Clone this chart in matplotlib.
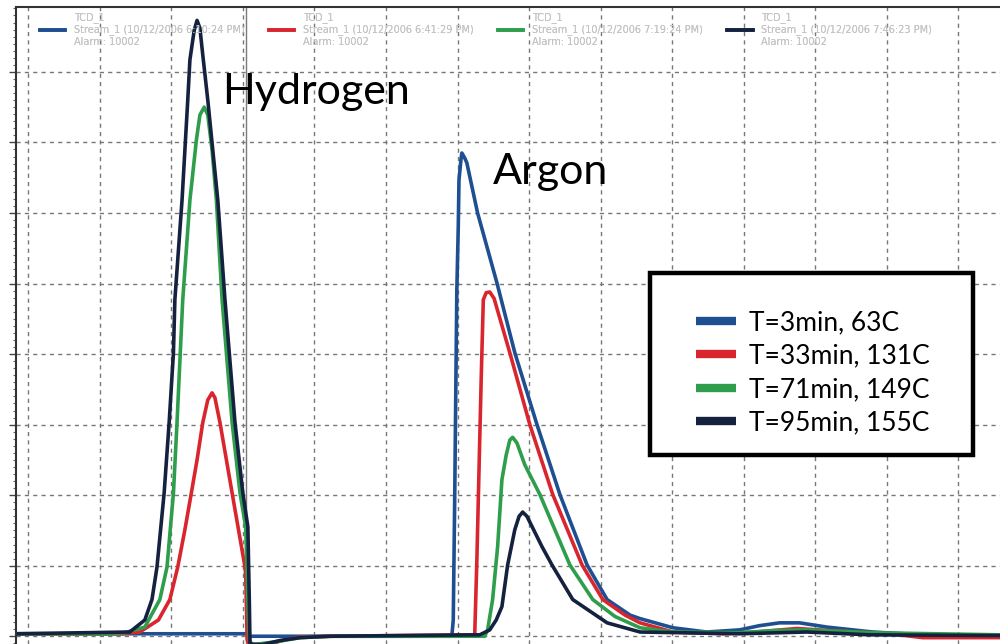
import numpy as np
import matplotlib
matplotlib.use('Agg')
import matplotlib.pyplot as plt
from matplotlib.lines import Line2D
from matplotlib.patches import Rectangle
from matplotlib.ticker import MultipleLocator

# T=3min, 63C
x_t3 = [-0.17, 3.04, 3.10, 5.92, 5.94, 5.96, 5.99, 6.01, 6.02, 6.05, 6.06, 6.10, 6.13, 6.28, 6.55,
        6.80, 7.11, 7.43, 7.81, 8.09, 8.41, 8.55, 9.01, 9.48, 9.94, 10.22, 10.50, 10.78, 11.16,
        11.80, 12.50, 13.58]
y_t3 = [0.035, 0.035, 0.0, 0.0, 0.23, 1.93, 4.91, 5.80, 6.47, 6.78, 6.85, 6.78, 6.71, 6.00, 5.01,
        4.02, 3.00, 2.01, 1.01, 0.52, 0.30, 0.25, 0.12, 0.06, 0.09, 0.15, 0.19, 0.19, 0.13,
        0.06, 0.02, -0.01]

# T=33min, 131C
x_t33 = [-0.17, 1.28, 1.56, 1.82, 1.98, 2.09, 2.19, 2.28, 2.36, 2.44, 2.51, 2.57, 2.61, 2.68,
         2.85, 3.03, 3.04, 3.06, 3.10, 3.38, 3.59, 3.80, 4.22, 6.24, 6.27, 6.30, 6.33, 6.36,
         6.40, 6.45, 6.51, 6.59, 6.73, 7.01, 7.33, 7.74, 8.03, 8.34, 8.55, 9.01, 9.71, 10.18,
         10.74, 11.20, 12.04, 12.50, 13.58]
y_t33 = [0.035, 0.035, 0.06, 0.23, 0.52, 0.98, 1.51, 2.03, 2.50, 3.03, 3.35, 3.45, 3.38, 3.03,
         2.03, 0.98, 0.87, -0.05, -0.13, -0.11, -0.05, -0.01, 0.0, 0.02, 1.08, 2.36, 3.63, 4.77,
         4.87, 4.88, 4.79, 4.51, 4.02, 3.00, 2.01, 1.01, 0.52, 0.30, 0.19, 0.06, 0.035, 0.06,
         0.11, 0.08, 0.035, -0.02, -0.02]

# T=71min, 149C
x_t71 = [-0.17, 1.15, 1.35, 1.63, 1.84, 1.94, 2.03, 2.08, 2.16, 2.26, 2.35, 2.40, 2.46, 2.51,
         2.57, 2.63, 2.71, 2.77, 2.85, 2.96, 3.04, 3.07, 3.09, 3.13, 3.45, 3.80, 4.22, 6.38,
         6.42, 6.49, 6.56, 6.62, 6.68, 6.73, 6.77, 6.83, 6.94, 7.15, 7.36, 7.57, 7.89, 8.20,
         8.55, 9.01, 9.94, 10.41, 10.88, 11.80, 13.58]
y_t71 = [0.035, 0.035, 0.05, 0.13, 0.52, 0.98, 2.03, 3.03, 4.77, 6.18, 7.03, 7.39, 7.50, 7.39,
         6.89, 6.18, 4.77, 4.02, 3.03, 2.03, 1.55, 0.52, -0.05, -0.12, -0.08, -0.02, 0.0, 0.0,
         0.09, 0.52, 1.27, 2.22, 2.57, 2.78, 2.82, 2.74, 2.43, 2.01, 1.51, 1.01, 0.52, 0.28,
         0.12, 0.06, 0.05, 0.08, 0.09, 0.05, 0.02]

# T=95min, 155C
x_t95 = [-0.17, 1.42, 1.63, 1.73, 1.80, 1.90, 1.97, 2.03, 2.05, 2.15, 2.23, 2.26, 2.32, 2.36,
         2.40, 2.44, 2.51, 2.65, 2.75, 2.81, 2.89, 3.00, 3.07, 3.09, 3.10, 3.27, 3.52, 3.80,
         4.22, 6.31, 6.45, 6.54, 6.62, 6.70, 6.80, 6.86, 6.91, 6.97, 7.18, 7.32, 7.61, 8.09,
         8.55, 9.94, 10.88, 11.76, 13.58]
y_t95 = [0.035, 0.06, 0.23, 0.52, 0.98, 2.03, 3.03, 4.02, 4.77, 6.18, 7.60, 8.17, 8.59, 8.73,
         8.62, 8.24, 7.60, 6.18, 4.77, 4.02, 3.03, 2.03, 1.55, 0.52, -0.11, -0.12, -0.06, -0.02,
         0.0, 0.02, 0.09, 0.23, 0.42, 1.01, 1.51, 1.70, 1.76, 1.70, 1.27, 1.01, 0.52, 0.19,
         0.06, 0.035, 0.06, 0.02, 0.01]

series = [(x_t3, y_t3), (x_t33, y_t33), (x_t71, y_t71), (x_t95, y_t95)]
colores = ['#1d4f91', '#d9262e', '#2e9e4c', '#15223f']
etiquetas = ['T=3min, 63C', 'T=33min, 131C', 'T=71min, 149C', 'T=95min, 155C']
etiquetas_tcd = ['TCD_1\nStream_1 (10/12/2006 6:10:24 PM)\nAlarm: 10002',
                 'TCD_1\nStream_1 (10/12/2006 6:41:29 PM)\nAlarm: 10002',
                 'TCD_1\nStream_1 (10/12/2006 7:19:24 PM)\nAlarm: 10002',
                 'TCD_1\nStream_1 (10/12/2006 7:46:23 PM)\nAlarm: 10002']

fig = plt.figure(figsize=(10, 6.44), dpi=100)
ax = fig.add_axes([0.016, 0.0, 0.984, 637 / 644])

lineas = []
for (xs, ys), c, lab in zip(series, colores, etiquetas_tcd):
    l, = ax.plot(xs, ys, color=c, lw=2.6, label=lab, solid_joinstyle='round')
    lineas.append(l)

# linea vertical de marca
ax.axvline(3.04, color='#7a7a7a', lw=1.0, zorder=1)

ax.set_xlim(-0.17, 13.58)
ax.set_ylim(-0.11, 8.92)
ax.set_xticks(np.arange(0, 14))
ax.set_yticks(np.arange(0, 9))
ax.yaxis.set_minor_locator(MultipleLocator(0.1))
ax.grid(True, color='#777777', ls=(0, (3, 3)), lw=1.0, zorder=0)
ax.tick_params(axis='x', length=0, labelbottom=False)
ax.tick_params(axis='y', which='major', length=5, width=1, color='#444444', labelleft=False)
ax.tick_params(axis='y', which='minor', length=2.5, width=0.8, color='#666666')
for s in ['right', 'bottom']:
    ax.spines[s].set_visible(False)
for s in ['left', 'top']:
    ax.spines[s].set_color('#333333')
    ax.spines[s].set_linewidth(1.5)

# leyenda superior (tenue)
leg1 = ax.legend(handles=lineas, loc='upper left', bbox_to_anchor=(36 / 1000, 1 - 8 / 644),
                 bbox_transform=fig.transFigure, ncol=4, frameon=False, fontsize=7,
                 handlelength=2.6, handletextpad=0.9, columnspacing=2.5, borderaxespad=0,
                 labelcolor='#c4c4c4', labelspacing=0.2)
ax.add_artist(leg1)

# recuadro de la leyenda
caja = Rectangle((650 / 1000, 1 - 455 / 644), 323 / 1000, 182 / 644, transform=fig.transFigure,
                 facecolor='white', edgecolor='black', lw=3.2, zorder=4)
fig.patches.append(caja)

# leyenda con recuadro
hs = [Line2D([0], [0], color=c, lw=6, solid_capstyle='butt') for c in colores]
leg2 = fig.legend(handles=hs, labels=etiquetas, loc='upper left',
                  bbox_to_anchor=(696 / 1000, 1 - 310 / 644), frameon=False,
                  prop={'family': 'Lato', 'size': 19}, handlelength=1.5, handletextpad=0.5,
                  labelspacing=0.32, borderpad=0, borderaxespad=0)
leg2.set_zorder(5)

ax.text(2.71, 7.71, 'Hydrogen', fontsize=31, family='Lato', va='center', ha='left')
ax.text(6.49, 6.58, 'Argon', fontsize=31, family='Lato', va='center', ha='left')

fig.savefig('out.png', dpi=100)
